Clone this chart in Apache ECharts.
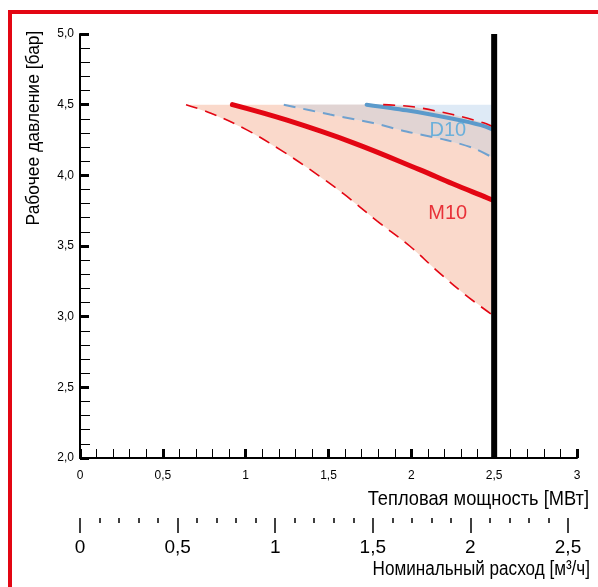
<!DOCTYPE html>
<html><head><meta charset="utf-8">
<script src="https://cdn.jsdelivr.net/npm/echarts@6/dist/echarts.min.js"></script>
<style>html,body{margin:0;padding:0;background:#fff}#c{width:598px;height:587px}</style>
</head><body><div id="c"></div>
<script>
// Tick labels
const pressureTickLabels = ['2,0','2,5','3,0','3,5','4,0','4,5','5,0'];
const powerTickLabels = ['0','0,5','1','1,5','2','2,5','3'];
const flowTickLabels = ['0','0,5','1','1,5','2','2,5'];

// Curves [power MW, pressure bar]
const m10Line  = [[0.92,4.5],[1.25,4.39],[1.65,4.23],[2.05,4.04],[2.25,3.94],[2.46,3.84],[2.5,3.82]];
const m10Lower = [[0.64,4.5],[0.79,4.44],[1.01,4.32],[1.21,4.18],[1.39,4.04],[1.59,3.87],[1.79,3.68],[1.99,3.5],[2.15,3.33],[2.32,3.16],[2.48,3.02]];
const m10Upper = [[1.83,4.5],[2.01,4.485],[2.25,4.43],[2.44,4.37],[2.5,4.34]];
const d10Line  = [[1.73,4.5],[1.97,4.46],[2.25,4.4],[2.42,4.355],[2.5,4.32]];
const d10Lower = [[1.23,4.5],[1.51,4.43],[1.77,4.37],[1.97,4.31],[2.21,4.25],[2.38,4.19],[2.5,4.12]];
const regionTop = 4.5;
const limitLine = [[2.5,2.0],[2.5,5.0]];
const curveLabels = [{name:'D10', value:[2.22,4.32]},{name:'M10', value:[2.22,3.73]}];

const RED = '#e30613';
const BLUE_LINE = '#5b9acb';
const BLUE_DASH = '#6fa1cf';
const LABEL_COLORS = {D10:'#4ea6dc', M10:'#e30613'};

// Regions built from curves
const m10Region = [[m10Lower[0][0], regionTop]].concat(m10Upper, [[2.5, m10Lower[m10Lower.length-1][1]]], m10Lower.slice().reverse());
const d10Region = [[d10Lower[0][0], regionTop],[2.5, regionTop]].concat(d10Lower.slice().reverse());
const overlapRegion = [[d10Lower[0][0], regionTop]].concat(m10Upper, d10Lower.slice().reverse());

function polySeries(name, pts, color){
  return {type:'custom', name:name, data:pts, encode:{x:0,y:1}, silent:true, z:1, clip:true,
    renderItem:function(params, api){
      if(params.dataIndex!==0) return null;
      return {type:'polygon', shape:{points:pts.map(function(p){return api.coord(p);})}, style:{fill:color}};
    }};
}

const tickFont = {fontFamily:'Liberation Sans, Arial, sans-serif', color:'#000'};
const nameFont = '"Liberation Sans", Arial, sans-serif';

const chart = echarts.init(document.getElementById('c'), null, {renderer:'canvas'});
chart.setOption({
  animation:false,
  backgroundColor:'#fff',
  grid:[
    {left:80, right:21, top:34, bottom:129},
    {left:80, right:30, top:300, bottom:69}
  ],
  xAxis:[
    {type:'value', gridIndex:0, min:0, max:3, interval:0.5,
     axisLine:{show:true, onZero:false, lineStyle:{color:'#000', width:2}},
     axisTick:{show:true, inside:true, length:9, lineStyle:{color:'#000', width:3}},
     minorTick:{show:true, splitNumber:5, length:9, lineStyle:{color:'#000', width:1}},
     splitLine:{show:false}, minorSplitLine:{show:false},
     axisLabel:Object.assign({margin:12, fontSize:12, formatter:function(v){return powerTickLabels[Math.round(v/0.5)];}}, tickFont)
    },
    {type:'value', gridIndex:1, min:0, max:2.5, interval:0.5,
     axisLine:{show:false, onZero:false},
     axisTick:{show:true, inside:false, length:15, lineStyle:{color:'#000', width:1.5}},
     minorTick:{show:true, splitNumber:5, length:5, lineStyle:{color:'#000', width:1.5}},
     splitLine:{show:false}, minorSplitLine:{show:false},
     axisLabel:Object.assign({margin:20, fontSize:19, formatter:function(v){return flowTickLabels[Math.round(v/0.5)];}}, tickFont)
    }
  ],
  yAxis:[
    {type:'value', gridIndex:0, min:2, max:5, interval:0.5,
     axisLine:{show:true, onZero:false, lineStyle:{color:'#000', width:2}},
     axisTick:{show:true, inside:true, length:9, lineStyle:{color:'#000', width:3}},
     minorTick:{show:true, splitNumber:5, length:10, lineStyle:{color:'#000', width:1}},
     splitLine:{show:false}, minorSplitLine:{show:false},
     axisLabel:Object.assign({margin:6, fontSize:12, formatter:function(v){return pressureTickLabels[Math.round((v-2)/0.5)];}}, tickFont)
    },
    {type:'value', gridIndex:1, show:false, min:0, max:1}
  ],
  series:[
    polySeries('M10 область', m10Region, '#fad9cb'),
    polySeries('D10 область', d10Region, '#deeaf6'),
    polySeries('Пересечение', overlapRegion, '#e1d4d3'),
    {type:'line', name:'M10 мин', data:m10Lower, smooth:0.4, symbol:'none', z:3,
     lineStyle:{color:RED, width:1.6, type:[12,8]}},
    {type:'line', name:'D10 мин', data:d10Lower, smooth:0.3, symbol:'none', z:3,
     lineStyle:{color:BLUE_DASH, width:2, type:[12,8]}},
    {type:'line', name:'D10', data:d10Line, smooth:0.3, symbol:'none', z:4,
     lineStyle:{color:BLUE_LINE, width:4, cap:'round'}},
    {type:'line', name:'M10 макс', data:m10Upper, smooth:0.3, symbol:'none', z:5,
     lineStyle:{color:RED, width:1.6, type:[12,8]}},
    {type:'line', name:'M10', data:m10Line, smooth:0.4, symbol:'none', z:5,
     lineStyle:{color:RED, width:5, cap:'round'}},
    {type:'line', name:'Предел', data:limitLine, symbol:'none', z:6,
     lineStyle:{color:'#000', width:6}},
    {type:'scatter', name:'Подписи', symbolSize:0, z:7,
     data:curveLabels.map(function(d){return {name:d.name, value:d.value, label:{color:LABEL_COLORS[d.name]}};}),
     label:{show:true, position:'inside', formatter:'{b}', fontSize:20,
       fontFamily:'Liberation Sans, Arial, sans-serif'}}
  ],
  graphic:[
    {type:'rect', shape:{x:8, y:10, width:590, height:4}, style:{fill:RED}, silent:true},
    {type:'rect', shape:{x:8, y:10, width:4, height:577}, style:{fill:RED}, silent:true},
    {type:'text', x:34, y:128, rotation:Math.PI/2, scaleX:0.97,
     style:{text:'Рабочее давление [бар]', font:'18px '+nameFont, fill:'#000', align:'center', verticalAlign:'middle'}},
    {type:'text', x:589, y:499, scaleX:0.87,
     style:{text:'Тепловая мощность [МВт]', font:'21px '+nameFont, fill:'#000', align:'right', verticalAlign:'middle'}},
    {type:'text', x:590, y:569, scaleX:0.855,
     style:{text:'Номинальный расход [м³/ч]', font:'20px '+nameFont, fill:'#000', align:'right', verticalAlign:'middle'}}
  ]
});
</script>
</body></html>
